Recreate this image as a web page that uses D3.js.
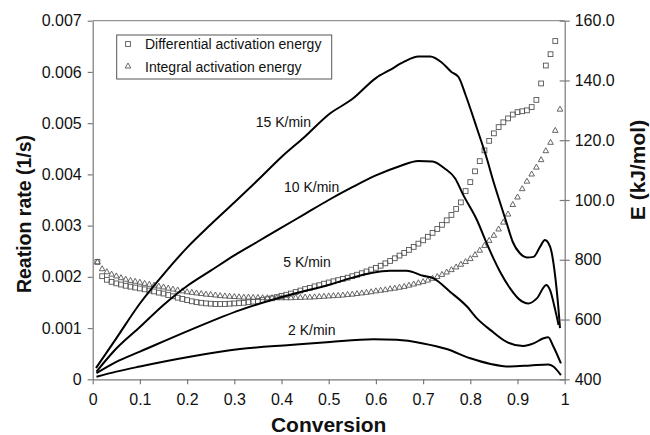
<!DOCTYPE html>
<html>
<head>
<meta charset="utf-8">
<script src="https://cdn.jsdelivr.net/npm/d3@7/dist/d3.min.js"></script>
<style>
  html, body { margin: 0; padding: 0; background: #fff; }
  svg { display: block; font-family: "Liberation Sans", Arial, sans-serif; }
</style>
</head>
<body>
<svg id="chart" width="650" height="435"></svg>
<script>
// ---------- DATA ----------
const xTicks = [0, 0.1, 0.2, 0.3, 0.4, 0.5, 0.6, 0.7, 0.8, 0.9, 1];
const xTickLabels = ["0", "0.1", "0.2", "0.3", "0.4", "0.5", "0.6", "0.7", "0.8", "0.9", "1"];
const yLeftTicks = [0, 0.001, 0.002, 0.003, 0.004, 0.005, 0.006, 0.007];
const yLeftTickLabels = ["0", "0.001", "0.002", "0.003", "0.004", "0.005", "0.006", "0.007"];
const yRightTicks = [40, 60, 80, 100, 120, 140, 160];
const yRightTickLabels = ["400", "600", "800", "100.0", "120.0", "140.0", "160.0"];

const seriesNames = ["15 K/min", "10 K/min", "5 K/min", "2 K/min"];

const conv15 = [0.007, 0.05, 0.10, 0.15, 0.20, 0.25, 0.30, 0.35, 0.40, 0.45, 0.50, 0.55, 0.60, 0.63, 0.66, 0.69, 0.715, 0.74, 0.76, 0.775, 0.79, 0.814, 0.835, 0.849, 0.863, 0.877, 0.89, 0.905, 0.92, 0.934, 0.948, 0.958, 0.969, 0.98, 0.987, 0.99];
const rate15 = [0.00022, 0.0008, 0.00148, 0.00205, 0.00257, 0.00302, 0.00345, 0.00389, 0.00434, 0.00474, 0.00517, 0.00547, 0.00588, 0.00604, 0.0062, 0.0063, 0.0063, 0.00618, 0.006, 0.0059, 0.00555, 0.0049, 0.00431, 0.00386, 0.00345, 0.00305, 0.00268, 0.00246, 0.00238, 0.00239, 0.00259, 0.00272, 0.00259, 0.002, 0.00135, 0.001];

const conv10 = [0.008, 0.05, 0.10, 0.15, 0.20, 0.25, 0.30, 0.35, 0.40, 0.45, 0.50, 0.55, 0.60, 0.65, 0.69, 0.72, 0.745, 0.768, 0.785, 0.814, 0.835, 0.849, 0.863, 0.884, 0.905, 0.923, 0.941, 0.961, 0.969, 0.98, 0.987];
const rate10 = [0.00015, 0.0006, 0.00102, 0.00145, 0.00182, 0.00212, 0.00242, 0.00269, 0.00296, 0.00323, 0.0035, 0.00375, 0.00398, 0.00416, 0.00426, 0.00425, 0.00412, 0.00392, 0.0036, 0.00311, 0.00265, 0.00236, 0.0021, 0.00178, 0.00155, 0.00148, 0.00158, 0.00184, 0.00174, 0.00135, 0.00106];

const conv5 = [0.008, 0.05, 0.10, 0.206, 0.312, 0.418, 0.503, 0.545, 0.588, 0.63, 0.665, 0.70, 0.722, 0.757, 0.793, 0.814, 0.843, 0.877, 0.912, 0.934, 0.955, 0.965, 0.976, 0.992];
const rate5 = [0.00012, 0.00034, 0.00054, 0.00096, 0.00135, 0.00165, 0.00185, 0.00197, 0.00207, 0.00212, 0.00212, 0.00202, 0.00197, 0.00171, 0.00142, 0.00119, 0.00096, 0.00073, 0.00065, 0.0007, 0.0008, 0.00082, 0.00064, 0.00031];

const conv2 = [0.008, 0.05, 0.10, 0.206, 0.312, 0.418, 0.503, 0.595, 0.644, 0.70, 0.75, 0.80, 0.843, 0.884, 0.927, 0.965, 0.976, 0.992];
const rate2 = [0.00005, 0.00015, 0.00025, 0.00044, 0.00059, 0.00067, 0.00073, 0.00078, 0.00077, 0.0007, 0.00059, 0.00041, 0.0003, 0.00025, 0.00027, 0.00029, 0.00025, 0.00008];

const convE = [0.01,0.02,0.03,0.04,0.05,0.06,0.07,0.08,0.09,0.10,0.11,0.12,0.13,0.14,0.15,0.16,0.17,0.18,0.19,0.20,0.21,0.22,0.23,0.24,0.25,0.26,0.27,0.28,0.29,0.30,0.31,0.32,0.33,0.34,0.35,0.36,0.37,0.38,0.39,0.40,0.41,0.42,0.43,0.44,0.45,0.46,0.47,0.48,0.49,0.50,0.51,0.52,0.53,0.54,0.55,0.56,0.57,0.58,0.59,0.60,0.61,0.62,0.63,0.64,0.65,0.66,0.67,0.68,0.69,0.70,0.71,0.72,0.73,0.74,0.75,0.76,0.77,0.78,0.79,0.80,0.81,0.82,0.83,0.84,0.85,0.86,0.87,0.88,0.89,0.90,0.91,0.92,0.93,0.94,0.95,0.96,0.97,0.98,0.99];

// Differential activation energy (kJ/mol), conversions 0.01..0.98
const eDiff = [79.3,74.5,73.3,72.6,72.1,71.7,71.3,71.0,70.7,70.4,70.1,69.7,69.4,69.0,68.7,68.2,67.8,67.3,66.9,66.5,66.1,65.8,65.6,65.4,65.3,65.2,65.2,65.2,65.3,65.4,65.5,65.6,65.8,66.0,66.2,66.5,66.8,67.1,67.5,67.9,68.3,68.7,69.2,69.7,70.2,70.6,71.1,71.5,72.0,72.4,72.8,73.2,73.6,74.0,74.5,75.0,75.5,76.1,76.7,77.3,78.0,78.8,79.6,80.5,81.4,82.3,83.3,84.3,85.4,86.5,87.7,89.0,90.3,91.7,93.2,95.0,97.0,99.2,103.0,106.0,109.6,113.0,116.6,119.8,122.3,124.4,126.0,127.3,128.6,129.4,129.7,130.0,131.1,133.5,139.0,145.0,148.8,153.2];

// Integral activation energy (kJ/mol), conversions 0.01..0.99
const eInt = [79.3,77.0,76.0,75.2,74.6,74.0,73.5,73.1,72.8,72.5,72.1,71.8,71.5,71.2,70.9,70.5,70.2,69.9,69.6,69.3,69.1,68.9,68.7,68.5,68.4,68.2,68.0,67.9,67.8,67.7,67.6,67.5,67.5,67.4,67.4,67.3,67.3,67.3,67.3,67.3,67.3,67.3,67.4,67.4,67.5,67.5,67.6,67.7,67.8,67.9,68.0,68.1,68.2,68.4,68.5,68.7,68.9,69.1,69.3,69.6,69.8,70.0,70.3,70.5,70.8,71.1,71.5,71.9,72.3,72.7,73.2,73.8,74.4,75.1,75.9,76.7,77.6,78.5,79.4,80.4,81.7,83.2,84.8,86.5,88.2,90.3,92.6,95.3,98.5,101.0,103.8,106.3,108.7,111.0,113.5,116.5,119.3,123.3,130.4];

const legendLabels = ["Differential activation energy", "Integral activation energy"];

// ---------- DRAW ----------
const svg = d3.select("#chart");
const L = 92.7, R = 564.7, T = 20.7, B = 379.3;
const x = d3.scaleLinear().domain([0, 1]).range([L, R]);
const yL = d3.scaleLinear().domain([0, 0.007]).range([B, T]);
const yR = d3.scaleLinear().domain([40, 160]).range([B, T]);
const axisColor = "#7a7a7a";
const textColor = "#111";

// scatter markers (drawn first, lines on top)
const sq = svg.append("g");
eDiff.forEach((e, i) => {
  sq.append("rect")
    .attr("x", x(convE[i]) - 2.4).attr("y", yR(e) - 2.4)
    .attr("width", 4.8).attr("height", 4.8)
    .attr("fill", "none").attr("stroke", "#555").attr("stroke-width", 0.9);
});
const tr = svg.append("g");
const triPath = "M0,-3 L2.8,2 L-2.8,2 Z";
eInt.forEach((e, i) => {
  tr.append("path")
    .attr("d", triPath)
    .attr("transform", `translate(${x(convE[i])},${yR(e)})`)
    .attr("fill", "none").attr("stroke", "#555").attr("stroke-width", 0.9);
});

// rate curves
const curves = [[conv15, rate15], [conv10, rate10], [conv5, rate5], [conv2, rate2]];
const line = d3.line().x(d => x(d[0])).y(d => yL(d[1])).curve(d3.curveMonotoneX);
curves.forEach(([c, r]) => {
  svg.append("path")
    .datum(c.map((v, i) => [v, r[i]]))
    .attr("d", line)
    .attr("fill", "none").attr("stroke", "#000").attr("stroke-width", 2)
    .attr("stroke-linejoin", "round");
});

// curve labels
const labelPos = [[255.7, 126.7], [284, 191.7], [283.3, 266.7], [288, 335]];
seriesNames.forEach((n, i) => {
  svg.append("text").attr("x", labelPos[i][0]).attr("y", labelPos[i][1])
    .attr("font-size", 14).attr("fill", textColor).text(n);
});

// frame top
svg.append("line").attr("x1", L).attr("x2", R).attr("y1", T).attr("y2", T)
  .attr("stroke", axisColor).attr("stroke-width", 1);

function styleAxis(g) {
  g.select(".domain").attr("stroke", axisColor).attr("stroke-width", 1.2);
  g.selectAll(".tick line").attr("stroke", axisColor).attr("stroke-width", 1.2);
  g.selectAll(".tick text").attr("fill", textColor).attr("font-size", 16)
    .attr("font-family", "'Liberation Sans', Arial, sans-serif");
}

svg.append("g").attr("transform", `translate(0,${B})`)
  .call(d3.axisBottom(x).tickValues(xTicks).tickFormat((d, i) => xTickLabels[i])
    .tickSizeInner(5).tickSizeOuter(0).tickPadding(9))
  .call(styleAxis);

svg.append("g").attr("transform", `translate(${L},0)`)
  .call(d3.axisLeft(yL).tickValues(yLeftTicks).tickFormat((d, i) => yLeftTickLabels[i])
    .tickSizeInner(5).tickSizeOuter(0).tickPadding(6))
  .call(styleAxis);

const rg = svg.append("g").attr("transform", `translate(${R},0)`)
  .call(d3.axisRight(yR).tickValues(yRightTicks).tickFormat((d, i) => yRightTickLabels[i])
    .tickSizeInner(5).tickSizeOuter(0).tickPadding(5))
  .call(styleAxis);
rg.selectAll(".tick line").attr("x1", -5);

// axis titles
svg.append("text").attr("x", (L + R) / 2).attr("y", 432)
  .attr("text-anchor", "middle").attr("font-size", 21).attr("font-weight", "bold")
  .attr("fill", textColor).text("Conversion");
svg.append("text").attr("transform", "translate(31,214) rotate(-90)")
  .attr("text-anchor", "middle").attr("font-size", 19.5).attr("font-weight", "bold")
  .attr("fill", textColor).text("Reation rate (1/s)");
svg.append("text").attr("transform", "translate(645,170) rotate(-90)")
  .attr("text-anchor", "middle").attr("font-size", 21).attr("font-weight", "bold")
  .attr("fill", textColor).text("E (kJ/mol)");

// legend
const lg = svg.append("g");
lg.append("rect").attr("x", 116.7).attr("y", 35).attr("width", 215).attr("height", 44)
  .attr("fill", "#fff").attr("stroke", "#555").attr("stroke-width", 1);
lg.append("rect").attr("x", 128 - 2.4).attr("y", 44 - 2.4).attr("width", 4.8).attr("height", 4.8)
  .attr("fill", "none").attr("stroke", "#555").attr("stroke-width", 0.9);
lg.append("path").attr("d", triPath).attr("transform", "translate(128,66)")
  .attr("fill", "none").attr("stroke", "#555").attr("stroke-width", 0.9);
legendLabels.forEach((t, i) => {
  lg.append("text").attr("x", 145).attr("y", 49 + i * 22.5)
    .attr("font-size", 14).attr("fill", textColor).text(t);
});
</script>
</body>
</html>
